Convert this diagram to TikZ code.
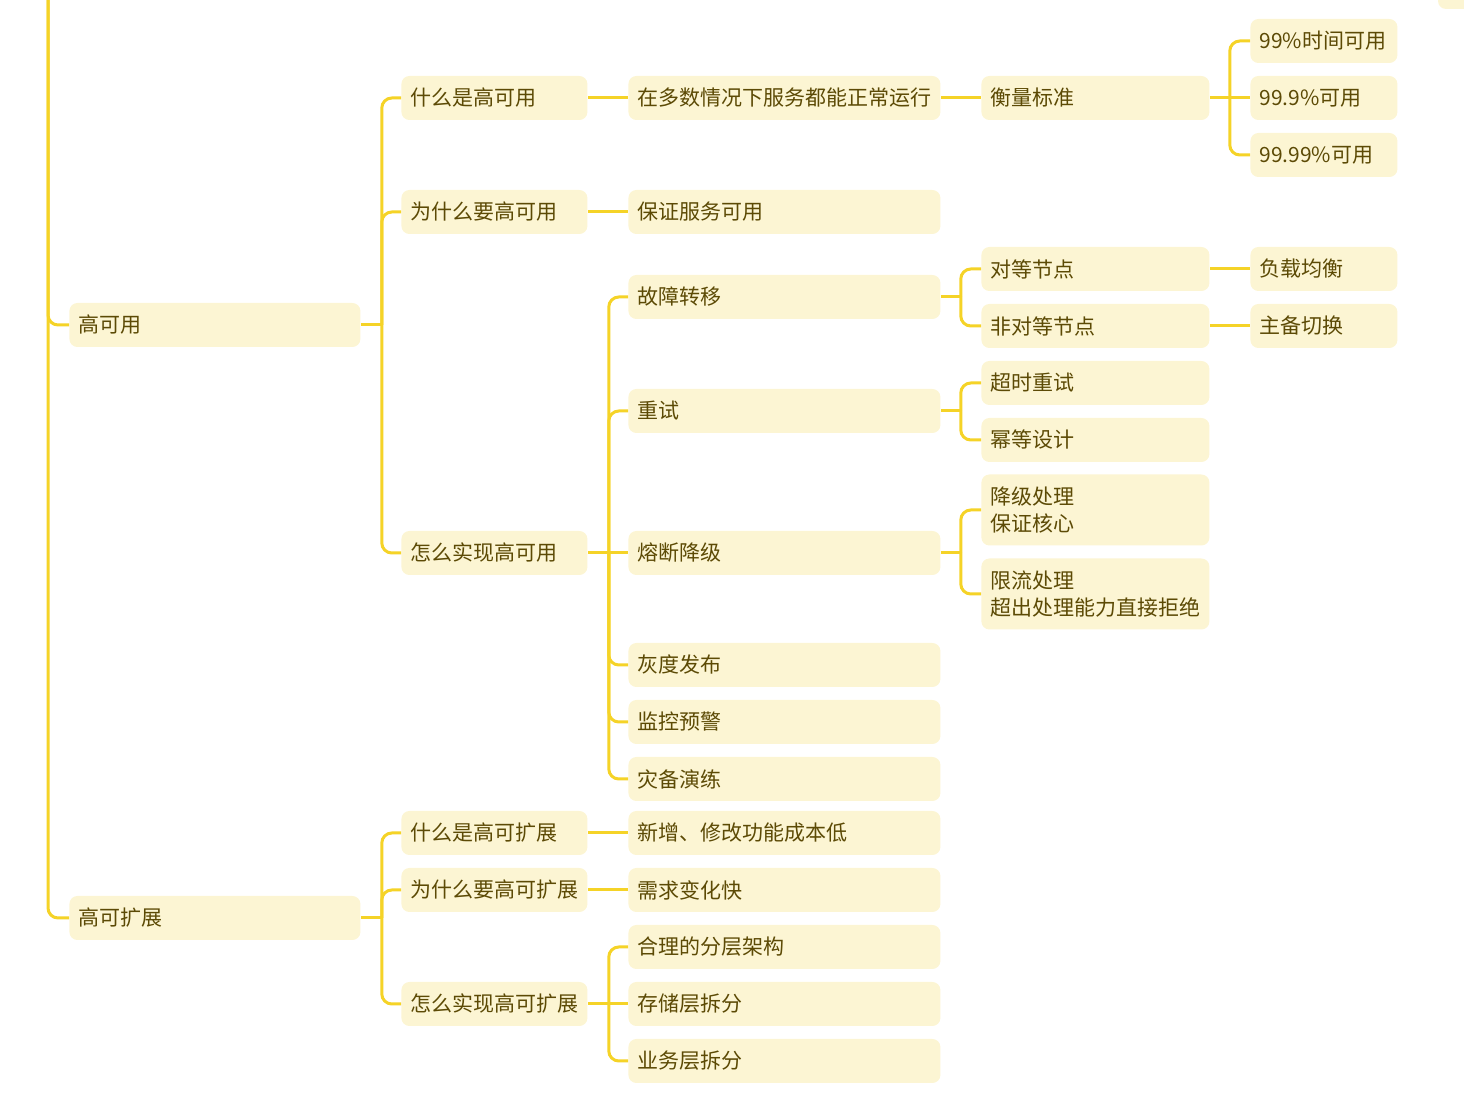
\documentclass[tikz,border=0pt]{standalone}
\usepackage{fontspec}
\setmainfont{Noto Sans CJK SC}
\usetikzlibrary{calc}
\definecolor{ln}{HTML}{F5D327}
\definecolor{bf}{HTML}{FCF5D3}
\definecolor{tx}{HTML}{5C4A05}
\begin{document}
\begin{tikzpicture}[x=0.5pt,y=-0.5pt,
 box/.style={fill=bf, rounded corners=4pt, anchor=west, inner xsep=4.5pt, inner ysep=0pt, minimum height=22pt, align=left, text=tx, font=\fontsize{10.5}{13.5}\selectfont},
 wa/.style={box, text width=136.5pt},
 wb/.style={box, text width=84pt},
 wc/.style={box, text width=147pt},
 wd/.style={box, text width=105pt},
 we/.style={box, text width=64.5pt},
 tall/.style={minimum height=35.5pt},
 conn/.style={draw=ln, line width=1.5pt, rounded corners=5pt}]
\useasboundingbox (0,0) rectangle (1464,1095);
\fill[bf, rounded corners=4pt] (1438,-20) rectangle (1500,9);

% level 1
\node[wa] (hA) at (69,325) {高可用};
\node[wa] (hB) at (69,918) {高可扩展};

% level 2 (高可用)
\node[wb] (a1) at (401,98) {什么是高可用};
\node[wb] (a2) at (401,212) {为什么要高可用};
\node[wb] (a3) at (401,553) {怎么实现高可用};

% level 3
\node[wc] (b1) at (628,98) {在多数情况下服务都能正常运行};
\node[wc] (b2) at (628,212) {保证服务可用};
\node[wc] (c1) at (628,297) {故障转移};
\node[wc] (c2) at (628,411) {重试};
\node[wc] (c3) at (628,553) {熔断降级};
\node[wc] (c4) at (628,665) {灰度发布};
\node[wc] (c5) at (628,722) {监控预警};
\node[wc] (c6) at (628,779) {灾备演练};

% level 4
\node[wd] (d0) at (981,98) {衡量标准};
\node[wd] (d1) at (981,269) {对等节点};
\node[wd] (d2) at (981,326) {非对等节点};
\node[wd] (d3) at (981,383) {超时重试};
\node[wd] (d4) at (981,440) {幂等设计};
\node[wd,tall] (d5) at (981,510) {降级处理\\保证核心};
\node[wd,tall] (d6) at (981,594) {限流处理\\超出处理能力直接拒绝};

% level 5
\node[we] (e1) at (1250,41) {99\%时间可用};
\node[we] (e2) at (1250,98) {99.9\%可用};
\node[we] (e3) at (1250,155) {99.99\%可用};
\node[we] (e4) at (1250,269) {负载均衡};
\node[we] (e5) at (1250,326) {主备切换};

% 高可扩展 branch
\node[wb] (f1) at (401,833) {什么是高可扩展};
\node[wb] (f2) at (401,890) {为什么要高可扩展};
\node[wb] (f3) at (401,1004) {怎么实现高可扩展};
\node[wc] (g1) at (628,833) {新增、修改功能成本低};
\node[wc] (g2) at (628,890) {需求变化快};
\node[wc] (g3) at (628,947) {合理的分层架构};
\node[wc] (g4) at (628,1004) {存储层拆分};
\node[wc] (g5) at (628,1061) {业务层拆分};

% connectors
\coordinate (root) at (48,-10);
\draw[conn] (root) |- (hA.west);
\draw[conn] (root) |- (hB.west);

\coordinate (jA) at ($(hA.east)+(21,0)$);
\draw[conn] (hA.east) -- (jA);
\foreach \c in {a1,a2,a3} \draw[conn] (jA) |- (\c.west);

\draw[conn] (a1.east) -- (b1.west);
\draw[conn] (a2.east) -- (b2.west);

\coordinate (jC) at ($(a3.east)+(21,0)$);
\draw[conn] (a3.east) -- (jC);
\foreach \c in {c1,c2,c4,c5,c6} \draw[conn] (jC) |- (\c.west);
\draw[conn] (jC) -- (c3.west);

\draw[conn] (b1.east) -- (d0.west);

\coordinate (jD0) at ($(d0.east)+(20,0)$);
\draw[conn] (d0.east) -- (jD0);
\draw[conn] (jD0) |- (e1.west);
\draw[conn] (jD0) |- (e3.west);
\draw[conn] (jD0) -- (e2.west);

\coordinate (jC1) at ($(c1.east)+(20,0)$);
\draw[conn] (c1.east) -- (jC1);
\draw[conn] (jC1) |- (d1.west);
\draw[conn] (jC1) |- (d2.west);

\coordinate (jC2) at ($(c2.east)+(20,0)$);
\draw[conn] (c2.east) -- (jC2);
\draw[conn] (jC2) |- (d3.west);
\draw[conn] (jC2) |- (d4.west);

\coordinate (jC3) at ($(c3.east)+(20,0)$);
\draw[conn] (c3.east) -- (jC3);
\draw[conn] (jC3) |- (d5.west);
\draw[conn] (jC3) |- (d6.west);

\draw[conn] (d1.east) -- (e4.west);
\draw[conn] (d2.east) -- (e5.west);

\coordinate (jB) at ($(hB.east)+(21,0)$);
\draw[conn] (hB.east) -- (jB);
\foreach \c in {f1,f2,f3} \draw[conn] (jB) |- (\c.west);

\draw[conn] (f1.east) -- (g1.west);
\draw[conn] (f2.east) -- (g2.west);

\coordinate (jF) at ($(f3.east)+(21,0)$);
\draw[conn] (f3.east) -- (jF);
\foreach \c in {g3,g5} \draw[conn] (jF) |- (\c.west);
\draw[conn] (jF) -- (g4.west);
\end{tikzpicture}
\end{document}
